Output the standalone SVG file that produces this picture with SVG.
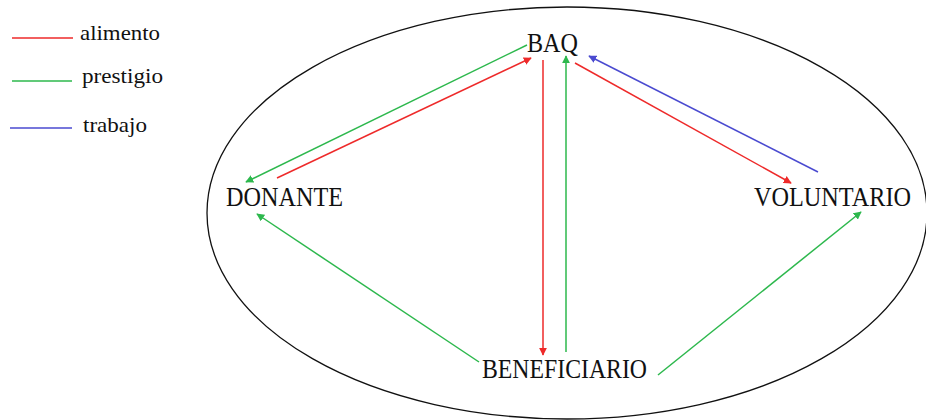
<svg xmlns="http://www.w3.org/2000/svg" width="926" height="420" viewBox="0 0 926 420">
<style>
.lbl{font-family:"Liberation Serif","Times New Roman",serif;font-size:27px;fill:#111;}
.leg{font-family:"Liberation Serif","Times New Roman",serif;font-size:22px;fill:#111;}
.r{stroke:#ee2a2a;stroke-width:1.5;fill:none;}
.g{stroke:#2db84d;stroke-width:1.5;fill:none;}
.b{stroke:#4a4ad0;stroke-width:1.5;fill:none;}
</style>
<defs>
<marker id="ar" viewBox="0 0 10 10" refX="9" refY="5" markerWidth="8" markerHeight="8" markerUnits="userSpaceOnUse" orient="auto"><path d="M0,0 L10,5 L0,10 z" fill="#ee2a2a"/></marker>
<marker id="ag" viewBox="0 0 10 10" refX="9" refY="5" markerWidth="8" markerHeight="8" markerUnits="userSpaceOnUse" orient="auto"><path d="M0,0 L10,5 L0,10 z" fill="#2db84d"/></marker>
<marker id="ab" viewBox="0 0 10 10" refX="9" refY="5" markerWidth="8" markerHeight="8" markerUnits="userSpaceOnUse" orient="auto"><path d="M0,0 L10,5 L0,10 z" fill="#4a4ad0"/></marker>
</defs>
<rect width="926" height="420" fill="#fff"/>
<g id="legend">
<line class="r" x1="12" y1="38" x2="73" y2="38"/>
<text class="leg" x="80" y="40" textLength="80" lengthAdjust="spacingAndGlyphs">alimento</text>
<line class="g" x1="12" y1="81" x2="72" y2="81"/>
<text class="leg" x="82" y="83" textLength="81" lengthAdjust="spacingAndGlyphs">prestigio</text>
<line class="b" x1="10" y1="128" x2="72" y2="128"/>
<text class="leg" x="83" y="132" textLength="64" lengthAdjust="spacingAndGlyphs">trabajo</text>
</g>
<g id="boundary">
<ellipse cx="567" cy="213" rx="360" ry="206" fill="none" stroke="#111" stroke-width="1.3"/>
</g>
<g id="connectors">
<line class="g" x1="527" y1="45" x2="246" y2="182" marker-end="url(#ag)"/>
<line class="r" x1="277" y1="178" x2="531" y2="58" marker-end="url(#ar)"/>
<line class="r" x1="543" y1="60" x2="543" y2="355" marker-end="url(#ar)"/>
<line class="g" x1="566" y1="352" x2="566" y2="56" marker-end="url(#ag)"/>
<line class="r" x1="575" y1="63" x2="791" y2="183" marker-end="url(#ar)"/>
<line class="b" x1="818" y1="172" x2="589" y2="56" marker-end="url(#ab)"/>
<line class="g" x1="479" y1="362" x2="257" y2="214" marker-end="url(#ag)"/>
<line class="g" x1="658" y1="375" x2="861" y2="212" marker-end="url(#ag)"/>
</g>
<g id="baq"><text class="lbl" x="527" y="52" textLength="51" lengthAdjust="spacingAndGlyphs">BAQ</text></g>
<g id="donante"><text class="lbl" x="226" y="206" textLength="117" lengthAdjust="spacingAndGlyphs">DONANTE</text></g>
<g id="voluntario"><text class="lbl" x="754" y="206" textLength="157" lengthAdjust="spacingAndGlyphs">VOLUNTARIO</text></g>
<g id="beneficiario"><text class="lbl" x="482" y="378" textLength="165" lengthAdjust="spacingAndGlyphs">BENEFICIARIO</text></g>
</svg>
